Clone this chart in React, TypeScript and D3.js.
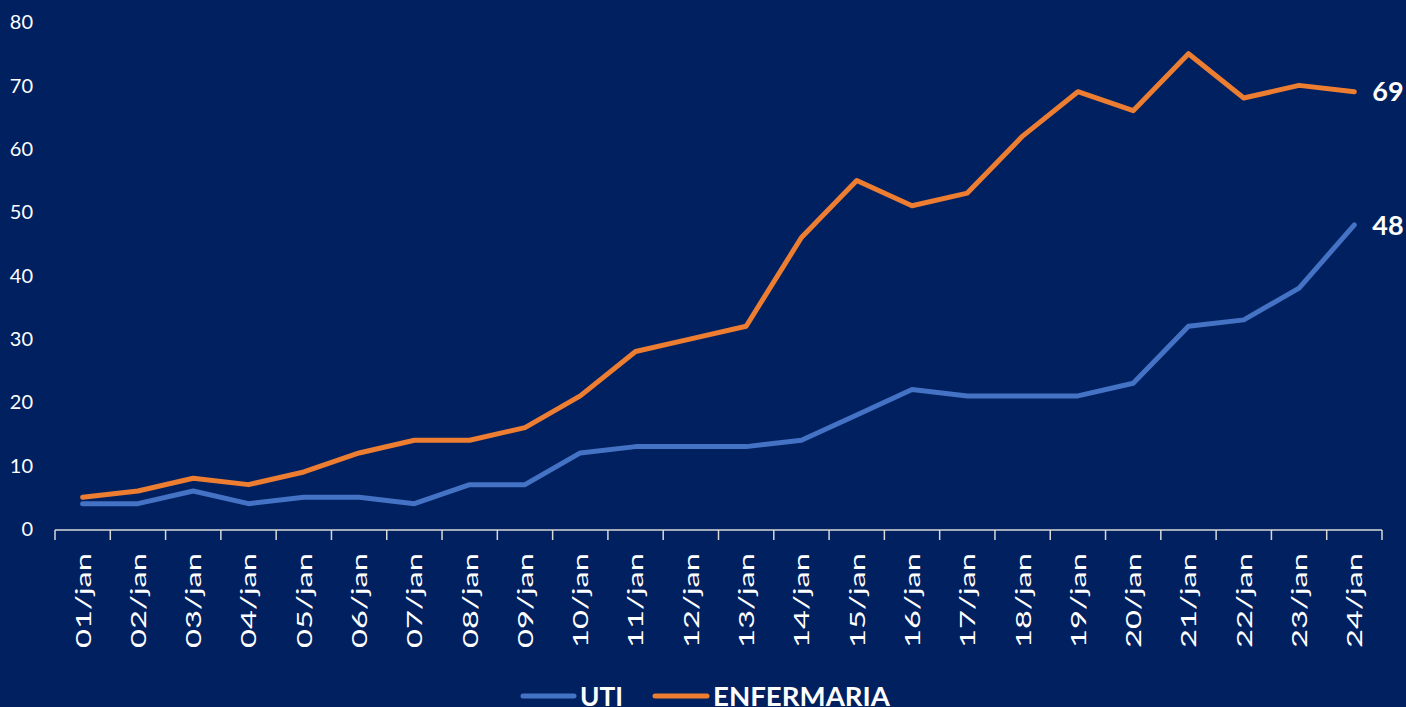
import React from "react";
import * as d3 from "d3";

const categories = ["01/jan","02/jan","03/jan","04/jan","05/jan","06/jan","07/jan","08/jan","09/jan","10/jan","11/jan","12/jan","13/jan","14/jan","15/jan","16/jan","17/jan","18/jan","19/jan","20/jan","21/jan","22/jan","23/jan","24/jan"];
const uti = [4,4,6,4,5,5,4,7,7,12,13,13,13,14,18,22,21,21,21,23,32,33,38,48];
const enfermaria = [5,6,8,7,9,12,14,14,16,21,28,30,32,46,55,51,53,62,69,66,75,68,70,69];
const yTicks = [0,10,20,30,40,50,60,70,80];

const W = 1406, H = 707;
const BG = "#002060";
const BLUE = "#4472C4";
const ORANGE = "#ED7D31";
const FONT = "Lato, 'Open Sans', sans-serif";

export default function App() {
  const x = d3.scaleBand<string>().domain(categories).range([55, 1382]);
  const y = d3.scaleLinear().domain([0, 80]).range([529, 22]);
  const cx = (c: string) => (x(c) as number) + x.bandwidth() / 2;
  const line = d3.line<number>().x((_, i) => cx(categories[i])).y((d) => y(d));
  const boundaries = categories.map((c) => x(c) as number).concat([x.range()[1]]);
  const last = categories[categories.length - 1];

  return (
    <div style={{ position: "fixed", left: 0, top: 0, width: W, height: H, background: BG }}>
      <svg width={W} height={H} style={{ display: "block" }}>
        <rect x={0} y={0} width={W} height={H} fill={BG} />
        {yTicks.map((t) => (
          <text key={t} x={33} y={y(t)} dy="0.36em" textAnchor="end" fill="#FFFFFF" fontFamily={FONT} fontSize={20}>
            {t}
          </text>
        ))}
        <line x1={x.range()[0]} x2={x.range()[1]} y1={y(0) + 1} y2={y(0) + 1} stroke="#D9D9D9" strokeWidth={1.5} />
        {boundaries.map((b, i) => (
          <line key={i} x1={b} x2={b} y1={y(0) + 1} y2={y(0) + 11} stroke="#D9D9D9" strokeWidth={1.5} />
        ))}
        {categories.map((c) => (
          <text key={c} transform={`translate(${cx(c)},${y(0) + 24}) rotate(-90)`} textAnchor="end" dy="0.36em" fill="#FFFFFF" fontFamily={FONT} fontSize={22} textLength={95} lengthAdjust="spacingAndGlyphs">
            {c}
          </text>
        ))}
        <path d={line(uti) || ""} fill="none" stroke={BLUE} strokeWidth={5} strokeLinejoin="round" strokeLinecap="round" />
        <path d={line(enfermaria) || ""} fill="none" stroke={ORANGE} strokeWidth={5} strokeLinejoin="round" strokeLinecap="round" />
        <text x={cx(last) + 18} y={y(enfermaria[enfermaria.length - 1])} dy="0.36em" fill="#FFFFFF" fontFamily={FONT} fontWeight="bold" fontSize={27}>
          {enfermaria[enfermaria.length - 1]}
        </text>
        <text x={cx(last) + 18} y={y(uti[uti.length - 1])} dy="0.36em" fill="#FFFFFF" fontFamily={FONT} fontWeight="bold" fontSize={27}>
          {uti[uti.length - 1]}
        </text>
        <g>
          <line x1={523} x2={574} y1={696} y2={696} stroke={BLUE} strokeWidth={5} strokeLinecap="round" />
          <text x={580} y={706} fill="#FFFFFF" fontFamily={FONT} fontWeight="bold" fontSize={27} textLength={43} lengthAdjust="spacingAndGlyphs">UTI</text>
          <line x1={655} x2={707} y1={696} y2={696} stroke={ORANGE} strokeWidth={5} strokeLinecap="round" />
          <text x={713} y={706} fill="#FFFFFF" fontFamily={FONT} fontWeight="bold" fontSize={27} textLength={177} lengthAdjust="spacingAndGlyphs">ENFERMARIA</text>
        </g>
      </svg>
    </div>
  );
}
